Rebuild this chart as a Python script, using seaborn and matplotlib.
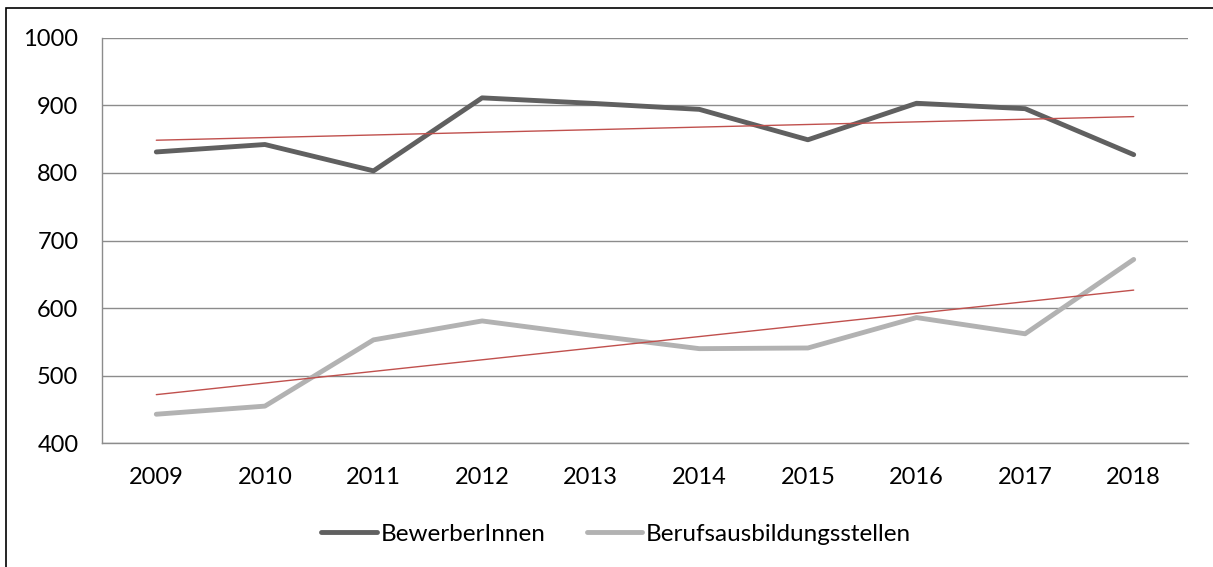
import matplotlib

matplotlib.use("Agg")
import matplotlib.pyplot as plt
import numpy as np
import pandas as pd
import seaborn as sns
from matplotlib.patches import Rectangle

years = ["2009", "2010", "2011", "2012", "2013", "2014", "2015", "2016", "2017", "2018"]
bewerber = [831, 842, 803, 911, 903, 894, 849, 903, 895, 827]
stellen = [443, 455, 553, 581, 560, 540, 541, 586, 562, 672]
series_names = ["BewerberInnen", "Berufsausbildungsstellen"]
y_ticks = [400, 500, 600, 700, 800, 900, 1000]

colors = {"BewerberInnen": "#606060", "Berufsausbildungsstellen": "#b2b2b2"}
trend_color = "#c0504d"
grid_color = "#8c8c8c"

sns.set_style("white")
plt.rcParams["font.family"] = ["Lato", "DejaVu Sans"]
plt.rcParams["text.color"] = "black"

idx = np.arange(len(years))
df = pd.concat(
    [
        pd.DataFrame({"pos": idx, "value": bewerber, "series": series_names[0]}),
        pd.DataFrame({"pos": idx, "value": stellen, "series": series_names[1]}),
    ],
    ignore_index=True,
)

fig = plt.figure(figsize=(12.13, 5.67), dpi=100)
ax = fig.add_axes([102 / 1213, 1 - 443.3 / 567, (1188 - 102) / 1213, (443.3 - 37.7) / 567])

for y in y_ticks:
    ax.axhline(y, color=grid_color, lw=1.0, zorder=1)

sns.lineplot(
    data=df, x="pos", y="value", hue="series", hue_order=series_names,
    palette=colors, lw=3.5, ax=ax, zorder=3, solid_capstyle="round",
)

# linear trend lines, as in the spreadsheet original
for vals in (bewerber, stellen):
    k, d = np.polyfit(idx, vals, 1)
    ax.plot(idx, k * idx + d, color=trend_color, lw=1.0, zorder=4)

ax.set_xlim(-0.5, len(years) - 0.5)
ax.set_ylim(400, 1000)
ax.set_xlabel("")
ax.set_ylabel("")

ax.set_xticks(np.arange(-0.5, len(years)), labels=[""] * (len(years) + 1))
ax.set_xticks(idx, labels=years, minor=True)
ax.set_yticks(y_ticks)
ax.tick_params(axis="x", which="major", length=6, width=1.0, color=grid_color, direction="out")
ax.tick_params(axis="x", which="minor", length=0, pad=17, labelsize=17, labelcolor="black")
ax.tick_params(axis="y", length=5, width=1.0, color=grid_color, direction="out", pad=12,
               labelsize=17, labelcolor="black")

for s in ["top", "right"]:
    ax.spines[s].set_visible(False)
for s in ["left", "bottom"]:
    ax.spines[s].set_color(grid_color)
    ax.spines[s].set_linewidth(1.0)

ax.get_legend().remove()
handles, labels = ax.get_legend_handles_labels()
leg = fig.legend(
    handles[:2], labels[:2], loc="center", bbox_to_anchor=(616 / 1213, 1 - 534 / 567),
    ncol=2, frameon=False, fontsize=17.5, handlelength=2.3, handletextpad=0.15,
    columnspacing=1.7,
)
for line in leg.get_lines():
    line.set_linewidth(3.5)
    line.set_solid_capstyle("round")

fig.add_artist(Rectangle((6 / 1213, -0.1), 1.2, 1.1 - 8 / 567, transform=fig.transFigure,
                         fill=False, edgecolor="black", lw=1.2))

fig.savefig("out.png", dpi=100)
